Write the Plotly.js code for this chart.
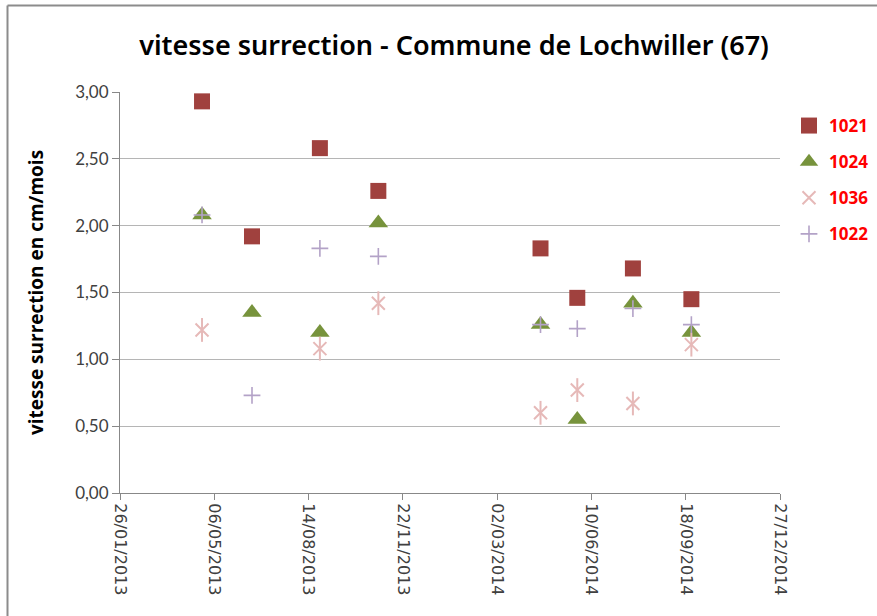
<!DOCTYPE html>
<html><head><meta charset="utf-8">
<script src="https://cdn.plot.ly/plotly-3.0.1.min.js"></script>
<style>body{margin:0;background:#fff}#chart{width:877px;height:616px}</style>
</head><body><div id="chart"></div>
<script>
const dates = ['2013-04-23','2013-06-15','2013-08-26','2013-10-27','2014-04-17','2014-05-26','2014-07-24','2014-09-24'];
const s1021 = [2.93,1.92,2.58,2.26,1.83,1.46,1.68,1.45];
const s1024 = [2.08,1.35,1.20,2.02,1.26,0.55,1.42,1.20];
const s1036 = [1.22,null,1.08,1.42,0.60,0.77,0.67,1.11];
const s1022 = [2.08,0.73,1.83,1.77,1.26,1.23,1.38,1.26];
const xTickVals = ['2013-01-26','2013-05-06','2013-08-14','2013-11-22','2014-03-02','2014-06-10','2014-09-18','2014-12-27'];
const xTickText = ['26/01/2013','06/05/2013','14/08/2013','22/11/2013','02/03/2014','10/06/2014','18/09/2014','27/12/2014'];
const yTickVals = [0,0.5,1,1.5,2,2.5,3];

const traces = [
  {name:'1021', x:dates, y:s1021, type:'scatter', mode:'markers', legendgroup:'a',
   marker:{symbol:'square', size:16, color:'#A0413E'}},
  {name:'1024', x:dates, y:s1024, type:'scatter', mode:'markers', legendgroup:'b',
   marker:{symbol:'triangle-up', size:17, color:'#77933C'}},
  {name:'1036', x:dates, y:s1036, type:'scatter', mode:'markers', legendgroup:'c',
   marker:{symbol:'x-thin-open', size:13, color:'#E6B9B8', line:{width:2, color:'#E6B9B8'}}},
  {name:'1036', x:dates, y:s1036, type:'scatter', mode:'markers', legendgroup:'c', showlegend:false,
   marker:{symbol:'line-ns-open', size:17, color:'#E6B9B8', line:{width:2, color:'#E6B9B8'}}},
  {name:'1022', x:dates, y:s1022, type:'scatter', mode:'markers', legendgroup:'d',
   marker:{symbol:'cross-thin-open', size:12, color:'#B3A2C7', line:{width:1.6, color:'#B3A2C7'}}}
];

const L=120, R=780, T=92, B=493;
const px = v => (v-L)/(R-L);
const py = v => (B-v)/(B-T);

const layout = {
  width:877, height:616,
  margin:{l:L, r:877-R, t:T, b:616-B, autoexpand:false},
  paper_bgcolor:'#ffffff', plot_bgcolor:'#ffffff',
  separators:', ',
  showlegend:true,
  title:{text:'vitesse surrection - Commune de Lochwiller (67)', xref:'container', x:454/877, xanchor:'center',
         yref:'container', y:1-46/616, yanchor:'middle',
         font:{family:'Noto Sans, sans-serif', size:27, color:'#000000', weight:600}},
  xaxis:{type:'date', range:['2013-01-26','2014-12-27'], tickmode:'array', tickvals:xTickVals, ticktext:xTickText,
         tickangle:90, showgrid:false, zeroline:false, showline:true, linecolor:'#888888', linewidth:1,
         ticks:'outside', ticklen:6, tickcolor:'#888888',
         tickfont:{family:'DejaVu Sans, sans-serif', size:16, color:'#404040'}},
  yaxis:{range:[0,3], tickmode:'array', tickvals:yTickVals, tickformat:'.2f', showgrid:true, gridcolor:'#b5b5b5',
         zeroline:false, showline:true, linecolor:'#888888', linewidth:1, ticks:'outside', ticklen:7, tickcolor:'#888888',
         tickfont:{family:'Lato, sans-serif', size:17, color:'#404040'},
         title:{text:'vitesse surrection en cm/mois', standoff:26,
                font:{family:'Open Sans, sans-serif', size:19, color:'#000000', weight:700}}},
  legend:{x:px(789), xanchor:'left', y:py(108), yanchor:'top', bgcolor:'rgba(0,0,0,0)', borderwidth:0,
          tracegroupgap:11, traceorder:'grouped',
          font:{family:'Open Sans, sans-serif', size:17, color:'#FF0000', weight:700}},
  shapes:[
    {type:'line', xref:'paper', yref:'paper', x0:px(7.5), x1:px(7.5), y0:py(5.5), y1:py(630), line:{color:'#8c8c8c', width:2}},
    {type:'line', xref:'paper', yref:'paper', x0:px(7.5), x1:px(890), y0:py(5.5), y1:py(5.5), line:{color:'#8c8c8c', width:2}}
  ]
};
Plotly.newPlot('chart', traces, layout, {displayModeBar:false});
</script></body></html>
